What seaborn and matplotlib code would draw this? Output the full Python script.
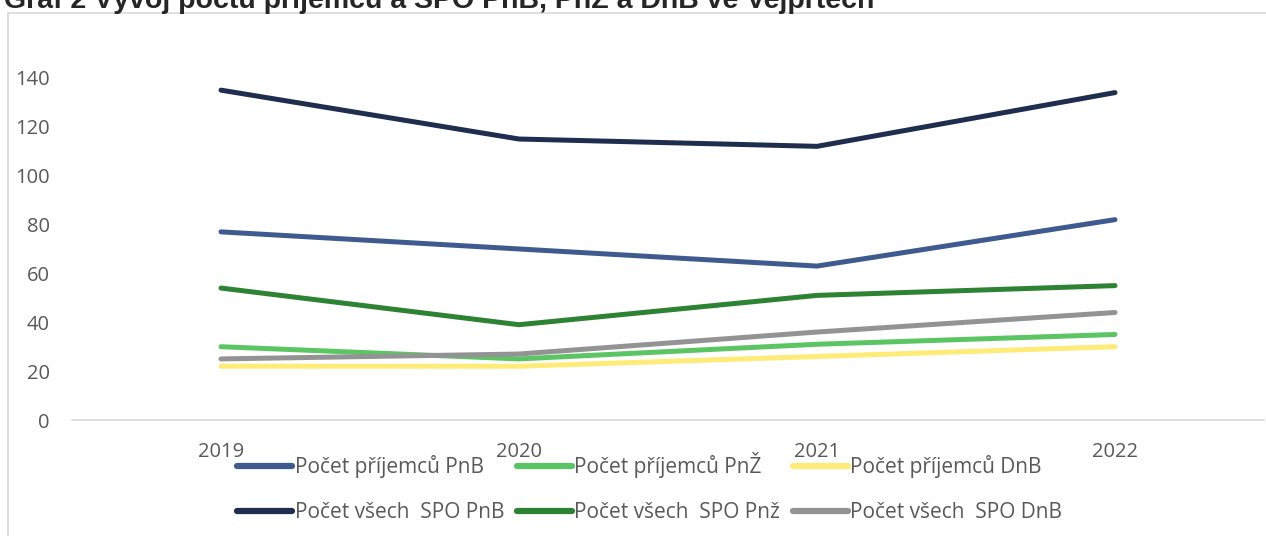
import pandas as pd
import numpy as np
import matplotlib.pyplot as plt
import matplotlib.patches as patches
import seaborn as sns

# data
years = [2019, 2020, 2021, 2022]
prij_pnb = [77, 70, 63, 82]
prij_pnz = [30, 25, 31, 35]
prij_dnb = [22, 22, 26, 30]
spo_pnb = [135, 115, 112, 134]
spo_pnz = [54, 39, 51, 55]
spo_dnb = [25, 27, 36, 44]

series_names = ['Počet příjemců PnB', 'Počet příjemců PnŽ', 'Počet příjemců DnB',
                'Počet všech  SPO PnB', 'Počet všech  SPO Pnž', 'Počet všech  SPO DnB']
series_vals = [prij_pnb, prij_pnz, prij_dnb, spo_pnb, spo_pnz, spo_dnb]
colors = ['#3E5A8E', '#5CC563', '#FFEB77', '#1F2D4E', '#2E8233', '#939393']

rows = []
for name, vals in zip(series_names, series_vals):
    for y, v in zip(years, vals):
        rows.append({'rok': y, 'hodnota': v, 'serie': name})
df = pd.DataFrame(rows)

sns.set_style('white')
plt.rcParams['font.family'] = ['Open Sans', 'DejaVu Sans']

fig = plt.figure(figsize=(12.66, 5.36), dpi=100)
ax = fig.add_axes([72/1266, 1-420/536, (1264-72)/1266, (420-53.5)/536])

sns.lineplot(data=df, x='rok', y='hodnota', hue='serie', hue_order=series_names,
             palette=colors, linewidth=3.6, ax=ax, legend=False)

ax.set_xlim(2018.5, 2022.5)
ax.set_ylim(0, 150)
ax.set_xticks(years)
ax.set_xticklabels([str(y) for y in years])
ax.set_yticks(np.arange(0, 141, 20))
ax.tick_params(axis='both', labelsize=14.5, labelcolor='#595959', length=0)
ax.tick_params(axis='y', pad=16)
ax.tick_params(axis='x', pad=16)
ax.set_xlabel('')
ax.set_ylabel('')
for s in ['top', 'right', 'left']:
    ax.spines[s].set_visible(False)
ax.spines['bottom'].set_color('#D9D9D9')
ax.spines['bottom'].set_linewidth(1.2)

# legend, row-wise order
handles = [plt.Line2D([], [], color=c, lw=4.5, solid_capstyle='round') for c in colors]
order = [0, 3, 1, 4, 2, 5]
leg = fig.legend([handles[i] for i in order], [series_names[i] for i in order],
                 ncol=3, loc='upper left', bbox_to_anchor=(237/1266, 1-452/536),
                 frameon=False, fontsize=15, handlelength=2.65, handletextpad=0.12,
                 columnspacing=0.6, labelspacing=1.15, borderaxespad=0, borderpad=0)
for t in leg.get_texts():
    t.set_color('#595959')

# chart border
fig.patches.append(patches.Rectangle((8/1266, -0.05), 1.1, 1 - 13/536 + 0.05,
                                     transform=fig.transFigure, fill=False,
                                     edgecolor='#D9D9D9', lw=1.2, clip_on=False))

# title, clipped at top like the reference
fig.text(4/1266, 1 - 8/536, 'Graf 2 Vývoj počtu příjemců a SPO PnB, PnŽ a DnB ve Vejprtech',
         fontsize=20.5, fontweight='bold', family='Liberation Sans', va='baseline', ha='left')

fig.savefig('out.png', dpi=100)
